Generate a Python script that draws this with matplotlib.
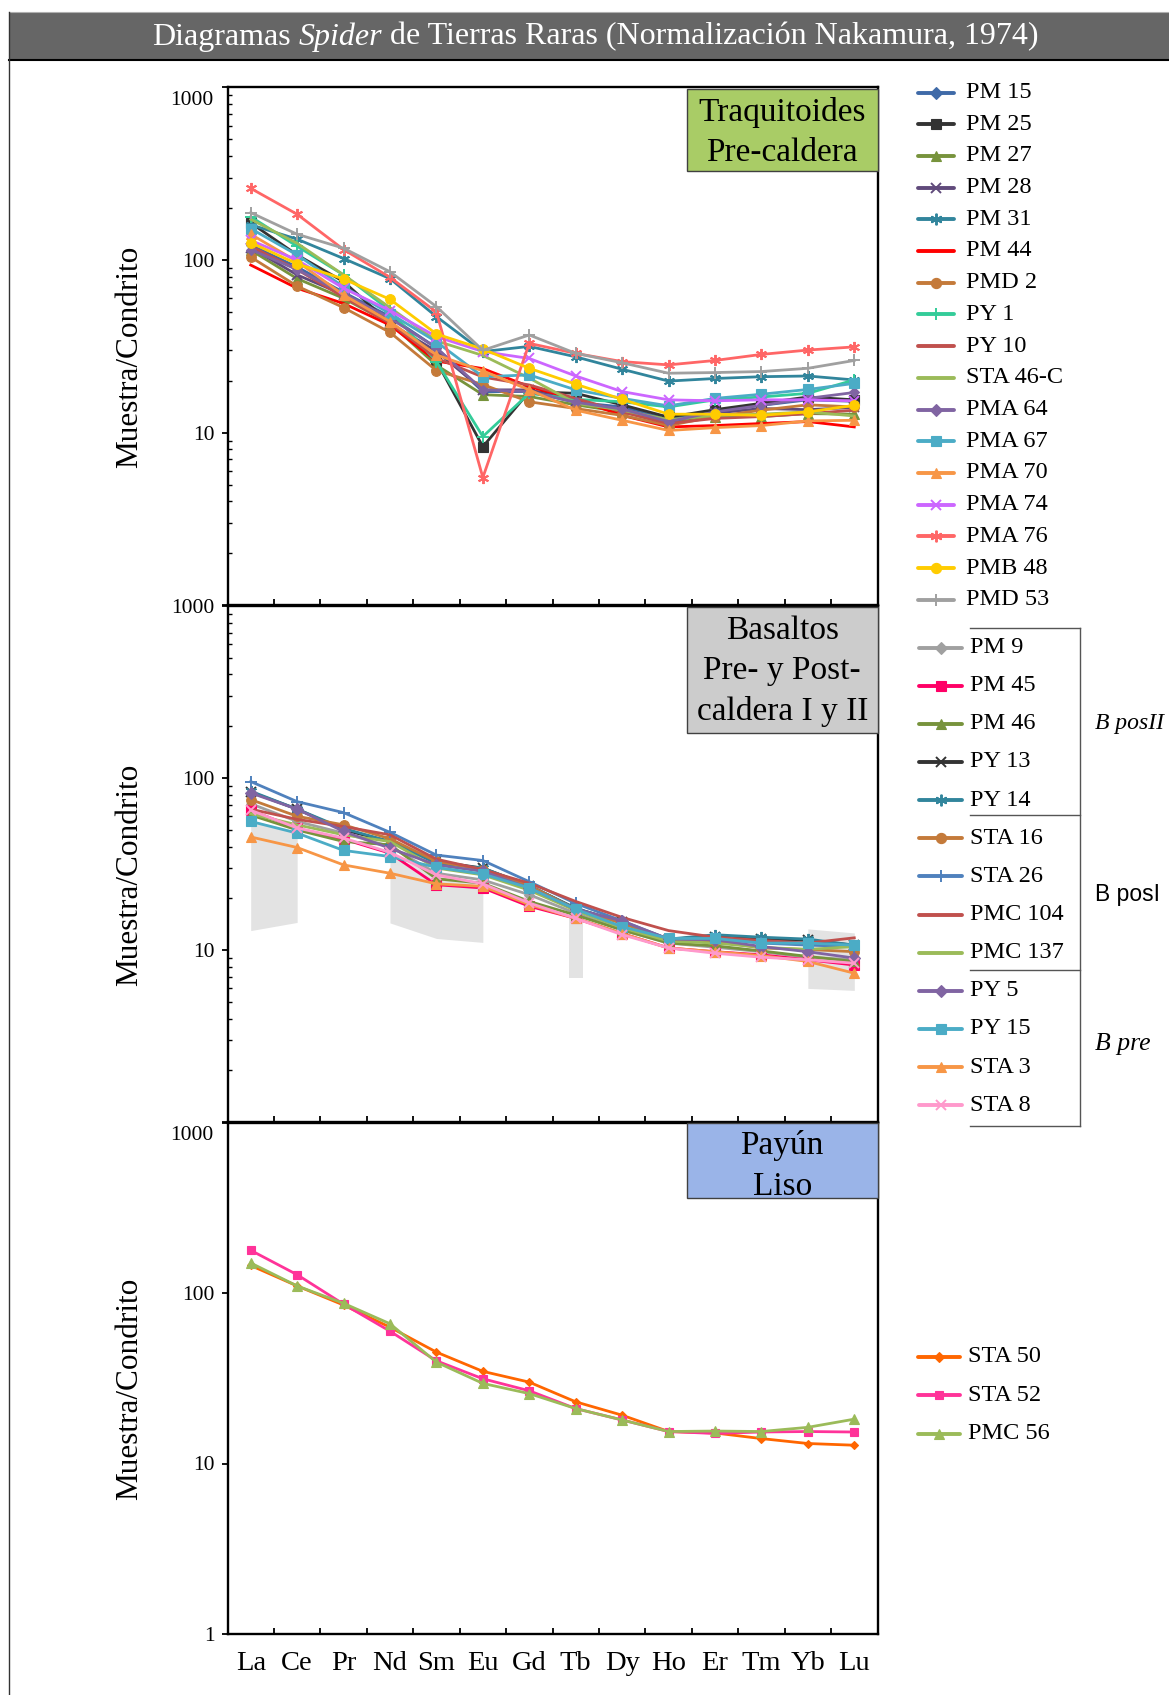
import numpy as np
import matplotlib
matplotlib.use("Agg")
import matplotlib.pyplot as plt
from matplotlib.lines import Line2D
from matplotlib.patches import Rectangle
from matplotlib.ticker import FixedLocator, LogLocator, NullFormatter, FixedFormatter

plt.rcParams['font.family'] = ['Liberation Serif', 'DejaVu Serif']

# ---------------------------------------------------------------- data
elements = ["La", "Ce", "Pr", "Nd", "Sm", "Eu", "Gd", "Tb", "Dy", "Ho", "Er", "Tm", "Yb", "Lu"]

# Traquitoides pre-caldera
PM15 = [122, 91, 65, 47, 31, 17.3, 17.3, 15.0, 14.1, 11.9, 13.4, 14.4, 15.5, 15.2]
PM25 = [164, 107, 75, 43, 26, 8.3, 17.3, 16.9, 14.5, 12.3, 13.6, 14.8, 16.1, 15.5]
PM27 = [114, 78, 60, 43, 24.6, 16.6, 16.2, 14.5, 13.2, 11.3, 12.4, 12.4, 12.9, 12.8]
PM28 = [118, 82, 63, 43, 29.6, 17.7, 17.7, 15.3, 13.5, 11.6, 13.0, 13.8, 13.6, 14.0]
PM31 = [160, 132, 102, 78, 47, 29.5, 31.6, 27.5, 23.3, 19.9, 20.6, 21.1, 21.3, 20.2]
PM44 = [93.5, 68.6, 56, 42, 26, 23.5, 18.5, 15.6, 12.6, 10.8, 11.0, 11.3, 11.6, 10.8]
PMD2 = [104, 70.6, 53, 38.1, 22.9, 19.0, 15.1, 13.8, 12.6, 11.0, 12.4, 13.5, 14.5, 14.1]
PY1 = [178, 120, 82, 51, 25.8, 9.5, 16.9, 15.6, 15.1, 14.1, 15.5, 16.1, 16.9, 20.2]
PY10 = [120, 88, 61, 43, 27, 21, 18.9, 15.8, 13.2, 11.3, 12.1, 12.4, 12.9, 13.5]
STA46C = [172, 125, 82, 53, 34, 28, 20.7, 14.8, 13.5, 11.9, 12.6, 12.8, 13.2, 12.5]
PMA64 = [115, 88, 64, 46, 31, 17.7, 17.3, 15.0, 13.7, 11.6, 13.2, 14.4, 15.8, 17.1]
PMA67 = [152, 107, 70, 49, 33.6, 21.1, 21.6, 17.7, 15.8, 14.3, 15.8, 16.7, 17.8, 19.3]
PMA70 = [141, 98, 62.7, 44, 28.2, 22.8, 17.7, 13.5, 11.8, 10.3, 10.7, 11.0, 11.7, 11.8]
PMA74 = [130, 100, 68.6, 51, 36, 29.5, 26.9, 21.3, 17.3, 15.5, 15.3, 15.5, 15.5, 15.3]
PMA76 = [260, 184, 115, 79.4, 50, 5.5, 32.9, 28.8, 25.8, 24.7, 26.2, 28.4, 30.1, 31.4]
PMB48 = [126, 95, 77.6, 59.2, 37.3, 30.5, 23.6, 19.1, 15.6, 12.8, 12.8, 12.6, 13.2, 14.4]
PMD53 = [188, 141, 117, 85.5, 53.7, 30, 36.8, 28.8, 25.4, 22.1, 22.3, 22.6, 23.6, 26.2]

# Basaltos pre- y post-caldera I y II
PM9 = [71, 56, 47.9, 40, 28, 25.6, 21, 16.4, 13.1, 11.0, 10.4, 9.8, 9.1, 8.8]
PM45 = [65, 51, 44.2, 36.6, 24, 23, 18, 15.3, 12.5, 10.3, 9.8, 9.4, 8.8, 8.2]
PM46 = [61, 50, 42.8, 41, 26, 24.5, 19.2, 16.0, 13.1, 11.0, 10.6, 9.9, 9.2, 8.6]
PY13 = [83, 66, 50, 42.8, 32.8, 30, 23.7, 17.5, 14.5, 11.6, 12.0, 11.6, 11.4, 10.7]
PY14 = [84, 66, 51, 42.8, 32, 30, 23.7, 17.5, 14.5, 11.6, 12.3, 11.9, 11.6, 10.7]
STA16 = [75, 60, 53.5, 44.4, 32.8, 29.4, 23.7, 17.3, 14.3, 11.6, 11.3, 10.3, 10.1, 9.8]
STA26 = [95.5, 73, 63, 48.4, 35.7, 33.2, 25, 18.7, 14.8, 11.6, 11.7, 11.0, 10.7, 10.5]
PMC104 = [66, 57.6, 52.3, 46.8, 33.8, 29.4, 24.5, 19.2, 15.5, 13.0, 11.9, 11.4, 11.0, 11.8]
PMC137 = [62, 53.5, 46.8, 42.8, 30, 27.4, 22.3, 17.0, 13.5, 11.3, 11.0, 10.4, 10.1, 10.5]
PY5 = [82, 66, 49, 39.1, 31.3, 28.7, 23, 17.3, 14.8, 11.6, 11.5, 10.5, 9.8, 9.0]
PY15 = [56, 47.9, 38, 35, 30.3, 27.7, 23, 17.3, 13.7, 11.7, 11.7, 11.0, 11.0, 10.7]
STA3 = [45.5, 39.5, 31.3, 28, 24.3, 23.5, 18.4, 15.3, 12.5, 10.3, 9.8, 9.3, 8.6, 7.35]
STA8 = [65, 51.3, 44.8, 37, 27.4, 24.3, 18.8, 15.3, 12.3, 10.3, 9.6, 9.1, 8.8, 8.4]

# grey reference field behind the basalts (NaN = no field)
nan = np.nan
field_top = [57, 49, nan, 35, 28, 24, nan, 17, nan, nan, nan, nan, 13.3, 12.6]
field_bottom = [13, 14.5, nan, 14.4, 11.7, 11.1, nan, 6.9, nan, nan, nan, nan, 6.0, 5.84]

# Payún Liso
STA50 = [145, 110, 85, 63, 45, 34.7, 30, 23, 19.2, 15.4, 15.1, 14.0, 13.1, 12.8]
STA52 = [178, 128, 86, 59.7, 40, 31.4, 26.7, 21, 18, 15.4, 15.0, 15.3, 15.4, 15.3]
PMC56 = [150, 110, 87, 66, 39.3, 29.5, 25.7, 21, 18, 15.4, 15.5, 15.4, 16.3, 18.2]

traq_labels = ["PM 15", "PM 25", "PM 27", "PM 28", "PM 31", "PM 44", "PMD 2", "PY 1",
               "PY 10", "STA 46-C", "PMA 64", "PMA 67", "PMA 70", "PMA 74", "PMA 76",
               "PMB 48", "PMD 53"]
traq_series = [PM15, PM25, PM27, PM28, PM31, PM44, PMD2, PY1, PY10, STA46C, PMA64,
               PMA67, PMA70, PMA74, PMA76, PMB48, PMD53]

bas_labels = ["PM 9", "PM 45", "PM 46", "PY 13", "PY 14", "STA 16", "STA 26", "PMC 104",
              "PMC 137", "PY 5", "PY 15", "STA 3", "STA 8"]
bas_series = [PM9, PM45, PM46, PY13, PY14, STA16, STA26, PMC104, PMC137, PY5, PY15, STA3, STA8]

liso_labels = ["STA 50", "STA 52", "PMC 56"]
liso_series = [STA50, STA52, PMC56]

# ---------------------------------------------------------------- styles
AST = (6, 2, 0)  # asterisk marker


def sty(color, marker=None, ms=6.5):
    return dict(color=color, marker=marker if marker else "None", ms=ms)


traq_styles = [
    sty("#3f6aa8", "D", 5.5), sty("#333333", "s", 6.5), sty("#77933c", "^", 7),
    sty("#604a7b", "x", 7), sty("#31859c", AST, 8), sty("#ff0000"),
    sty("#c47a3a", "o", 7), sty("#33cc99", "+", 8), sty("#c0504d"),
    sty("#9bbb59"), sty("#8064a2", "D", 5.5), sty("#4bacc6", "s", 6.5),
    sty("#f79646", "^", 7), sty("#cc66ff", "x", 7), sty("#ff6666", AST, 8),
    sty("#ffcc00", "o", 7), sty("#a0a0a0", "+", 8),
]
bas_styles = [
    sty("#a0a0a0", "D", 5.5), sty("#ff0066", "s", 6.5), sty("#77933c", "^", 7),
    sty("#333333", "x", 7), sty("#31859c", AST, 8), sty("#c47a3a", "o", 7),
    sty("#4f81bd", "+", 8), sty("#c0504d"), sty("#9bbb59"),
    sty("#8064a2", "D", 6), sty("#4bacc6", "s", 6.5), sty("#f79646", "^", 7),
    sty("#ff99cc", "x", 7),
]
liso_styles = [sty("#ff6600", "D", 4.5), sty("#ff3399", "s", 6), sty("#9bbb59", "^", 6.5)]

# ---------------------------------------------------------------- layout (pixels)
W, H = 1169, 1695
fig = plt.figure(figsize=(W / 100, H / 100), dpi=100)


def rect(x0, y0, x1, y1):
    return [x0 / W, 1 - y1 / H, (x1 - x0) / W, (y1 - y0) / H]


X0, X1 = 227.5, 877.5
panels = [(87.3, 605.4), (606.0, 1122.3), (1122.5, 1634.0)]
x = np.arange(len(elements))


def draw_series(ax, series, styles, lw=2.0):
    for vals, st in zip(series, styles):
        mew = 1.4 if st["marker"] in ("x", "+", AST) else 0.8
        ax.plot(x, vals, color=st["color"], lw=lw, marker=st["marker"], ms=st["ms"],
                mec=st["color"], mfc=st["color"], mew=mew, solid_joinstyle="round")


def style_axis(ax, show_labels, ylabels, minor=True):
    ax.set_yscale("log")
    ax.set_ylim(1, 1000)
    ax.set_xlim(-0.5, len(elements) - 0.5)
    for s in ax.spines.values():
        s.set_linewidth(1.7)
        s.set_color("black")
    ax.yaxis.set_major_locator(FixedLocator([1, 10, 100, 1000]))
    ax.yaxis.set_major_formatter(FixedFormatter(ylabels))
    if minor:
        ax.yaxis.set_minor_locator(LogLocator(base=10, subs=np.arange(2, 10)))
    else:
        ax.yaxis.set_minor_locator(FixedLocator([]))
    ax.yaxis.set_minor_formatter(NullFormatter())
    ax.tick_params(axis="y", which="major", direction="out", length=4, width=1.3,
                   labelsize=15.5, pad=5.5)
    ax.tick_params(axis="y", which="minor", direction="in", length=3, width=1.0)
    ax.xaxis.set_major_locator(FixedLocator(np.arange(-0.5, len(elements), 1.0)))
    ax.xaxis.set_major_formatter(NullFormatter())
    ax.tick_params(axis="x", which="major", direction="in", length=4, width=1.3)
    if show_labels:
        ax.xaxis.set_minor_locator(FixedLocator(x))
        ax.xaxis.set_minor_formatter(FixedFormatter(elements))
        ax.tick_params(axis="x", which="minor", length=0, labelsize=20.5, pad=12)
    ax.set_ylabel("Muestra/Condrito", fontsize=22.5)
    ax.yaxis.set_label_coords(-0.128, 0.48)


ax_top = fig.add_axes(rect(X0, panels[0][0], X1, panels[0][1]))
ax_mid = fig.add_axes(rect(X0, panels[1][0], X1, panels[1][1]))
ax_bot = fig.add_axes(rect(X0, panels[2][0], X1, panels[2][1]))

style_axis(ax_top, False, ["", "10", "100", ""])
style_axis(ax_mid, False, ["", "10", "100", "1000"])
style_axis(ax_bot, True, ["1", "10", "100", ""], minor=False)

# "1000" labels of the outer panels sit just inside the frame
for ax in (ax_top, ax_bot):
    ax.text(-0.022, 0.975, "1000", transform=ax.transAxes, ha="right", va="center",
            fontsize=15.5)

# grey field in the basalt panel
ft = np.array(field_top, dtype=float)
fb = np.array(field_bottom, dtype=float)
valid = ~np.isnan(ft)
i = 0
while i < len(x):
    if valid[i]:
        j = i
        while j + 1 < len(x) and valid[j + 1]:
            j += 1
        if j > i:
            ax_mid.fill_between(x[i:j + 1], fb[i:j + 1], ft[i:j + 1], color="#e3e3e3",
                                lw=0, zorder=1)
        else:
            ax_mid.fill_between([x[i] - 0.15, x[i] + 0.15], [fb[i]] * 2, [ft[i]] * 2,
                                color="#e3e3e3", lw=0, zorder=1)
        i = j + 1
    else:
        i += 1

draw_series(ax_top, traq_series, traq_styles)
draw_series(ax_mid, bas_series, bas_styles)
draw_series(ax_bot, liso_series, liso_styles)

# ---------------------------------------------------------------- overlay
ov = fig.add_axes([0, 0, 1, 1], zorder=10)
ov.set_xlim(0, W)
ov.set_ylim(H, 0)
ov.axis("off")
ov.patch.set_alpha(0)

# title band
ov.add_patch(Rectangle((8.5, 12), W, 47.5, facecolor="#666666", edgecolor="none"))
ov.plot([8.5, W], [12, 12], color="#b0b0b0", lw=0.8)
ov.plot([8.5, W], [59.5, 59.5], color="black", lw=1.5)
ov.plot([8.5, 8.5], [12, H], color="#333333", lw=1.0)

renderer = fig.canvas.get_renderer()


def text_w(s, **kw):
    t = ov.text(0, 0, s, **kw)
    w = t.get_window_extent(renderer).width
    t.remove()
    return w


tkw = dict(fontsize=23, color="white", va="center", ha="left")
parts = [("Diagramas", "normal"), ("Spider", "italic"),
         ("de Tierras Raras (Normalización Nakamura, 1974)", "normal")]
space = text_w("a a", **tkw) - text_w("aa", **tkw)
widths = [text_w(p, style=s, **tkw) for p, s in parts]
total = sum(widths) + space * (len(parts) - 1)
cx = 595 - total / 2
for (p, s), w in zip(parts, widths):
    ov.text(cx, 37, p, style=s, **tkw)
    cx += w + space

# panel name boxes (rectangle, colour, text, vertical text nudge)
boxes = [
    ((687, 88.5, X1, 171), "#a9cc66", "Traquitoides\nPre-caldera", 3),
    ((687, 607, X1, 733), "#cccccc", "Basaltos\nPre- y Post-\ncaldera I y II", 1),
    ((687, 1123, X1, 1198), "#9ab4e8", "Payún\nLiso", 5.5),
]
for (bx0, by0, bx1, by1), fc, label, dy in boxes:
    ov.add_patch(Rectangle((bx0, by0), bx1 - bx0, by1 - by0, facecolor=fc,
                           edgecolor="#404040", lw=1.0))
    ov.text((bx0 + bx1) / 2, (by0 + by1) / 2 + dy, label, ha="center", va="center",
            fontsize=24, linespacing=1.42, color="black")


# legends
def legend_rows(labels, styles, y0, dy, lx0, lx1, tx):
    for k, (lab, st) in enumerate(zip(labels, styles)):
        yy = y0 + k * dy
        mew = 1.4 if st["marker"] in ("x", "+", AST) else 0.8
        ov.add_line(Line2D([lx0, lx1], [yy, yy], color=st["color"], lw=2.8,
                           solid_capstyle="round"))
        ov.add_line(Line2D([(lx0 + lx1) / 2], [yy], color=st["color"], lw=0,
                           marker=st["marker"], ms=st["ms"] * 1.05, mfc=st["color"],
                           mec=st["color"], mew=mew))
        ov.text(tx, yy, lab, ha="left", va="center", fontsize=17.5)


legend_rows(traq_labels, traq_styles, 92.5, 31.7, 918, 954, 966)
legend_rows(bas_labels, bas_styles, 647.5, 38.15, 919, 962, 970)
legend_rows(liso_labels, liso_styles, 1357, 38.3, 918, 960, 968)

# grouping bracket for the basalt legend
for yy in (627.5, 815, 969.5, 1126):
    ov.plot([970, 1080], [yy, yy], color="#555555", lw=1.0)
ov.plot([1080, 1080], [627.5, 1126], color="#555555", lw=1.0)
ov.text(1095, 723, "B posII", style="italic", fontsize=17, ha="left", va="center")
ov.text(1095, 894, "B posI", family="Liberation Sans", fontsize=16.5, ha="left",
        va="center")
ov.text(1095, 1044, "B pre", style="italic", fontsize=18.5, ha="left", va="center")

fig.savefig("out.png", dpi=100)
